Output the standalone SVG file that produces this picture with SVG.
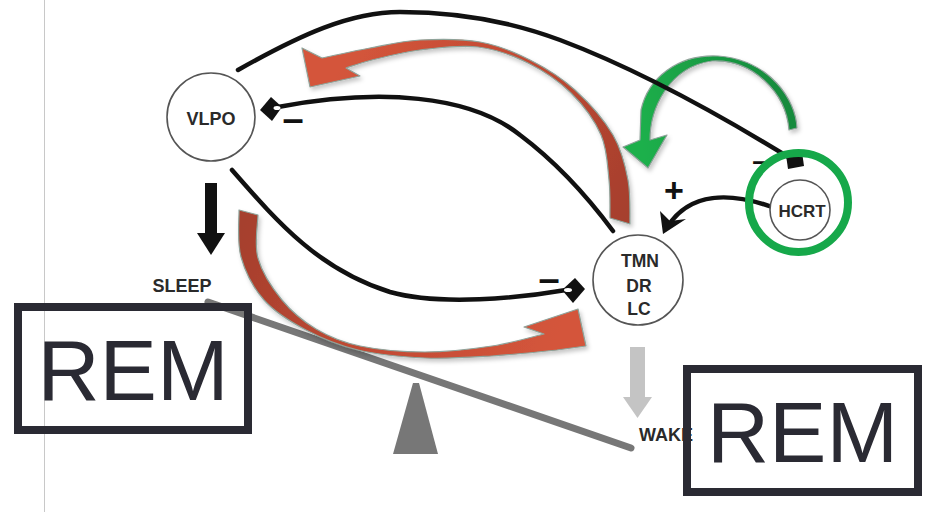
<svg xmlns="http://www.w3.org/2000/svg" width="926" height="512" viewBox="0 0 926 512">
<style>
.ln{fill:none;stroke:#111;stroke-width:4.5;stroke-linecap:round}
.node{fill:#fff;stroke:#555;stroke-width:1.6}
.lbl{font-family:"Liberation Sans",Arial,sans-serif;font-weight:bold;fill:#2a2a2a;text-anchor:middle}
.sign{font-family:"Liberation Sans",Arial,sans-serif;font-weight:bold;fill:#111;text-anchor:middle}
.rem{font-family:"Liberation Sans",Arial,sans-serif;font-size:86px;fill:#2a2a33;text-anchor:middle}
.box{fill:none;stroke:#2a2a33;stroke-width:8}
.band{stroke:#8fa39a;stroke-width:1.2;stroke-linejoin:round;filter:url(#sh)}
</style>
<defs>
<filter id="sh" x="-20%" y="-20%" width="140%" height="140%">
<feDropShadow dx="2" dy="3" stdDeviation="2" flood-color="#000" flood-opacity="0.22"/>
</filter>
<linearGradient id="gRedUp" gradientUnits="userSpaceOnUse" x1="625" y1="220" x2="340" y2="65">
<stop offset="0" stop-color="#a63f2d"/><stop offset="0.5" stop-color="#c04a33"/><stop offset="1" stop-color="#d4553b"/>
</linearGradient>
<linearGradient id="gRedLo" gradientUnits="userSpaceOnUse" x1="248" y1="212" x2="560" y2="330">
<stop offset="0" stop-color="#a63f2d"/><stop offset="0.5" stop-color="#c24b34"/><stop offset="1" stop-color="#d4553b"/>
</linearGradient>
<linearGradient id="gGreen" gradientUnits="userSpaceOnUse" x1="793" y1="128" x2="645" y2="160">
<stop offset="0" stop-color="#178a3c"/><stop offset="1" stop-color="#1cb04c"/>
</linearGradient>
</defs>

<rect width="926" height="512" fill="#fff"/>
<line x1="44.5" y1="0" x2="44.5" y2="512" stroke="#c8c8c8" stroke-width="1"/>

<g id="seesaw">
<line x1="208" y1="302" x2="631" y2="448" stroke="#777" stroke-width="7" stroke-linecap="round"/>
<polygon points="413,383 419,383 438,454 393,454" fill="#777"/>
</g>

<g id="connectors">
<path class="band" fill="url(#gGreen)" d="M 797 128 C 796 100 770 60 718 56 C 678 54 648 78 641 110 L 640 140 L 623 147 L 648 168 L 667 135 L 650 140 C 650 110 668 67 712 61 C 752 59 786 92 789 130 Z"/>
<path class="ln" d="M 238 70 C 300 35 350 12 400 12 C 470 12 520 25 560 40 C 640 70 720 115 790 158"/>
<polygon points="786,155 802,152 804,166 788,169" fill="#111"/>
<path class="ln" d="M 278 107 C 380 88 470 95 520 135 C 560 165 590 200 613 231"/>
<polygon points="260,110 271,97 282,107 272,121" fill="#111"/>
<ellipse cx="277" cy="108" rx="3.5" ry="2" fill="#fff"/>
<path class="ln" d="M 232 170 C 280 225 320 270 390 292 C 440 306 520 298 566 290"/>
<polygon points="562,290 575,278 585,289 573,303" fill="#111"/>
<ellipse cx="568" cy="290" rx="4" ry="2" fill="#fff"/>
<path class="ln" d="M 772 207 C 730 192 690 192 668 226"/>
<polygon points="663,234 660,211 670,221 686,219" fill="#111"/>
<path class="band" fill="url(#gRedUp)" d="M 610 218 L 630 224 C 629.7 216.7 630.8 194.8 628 180 C 625.2 165.2 621.8 150 613 135 C 604.2 120 588.8 102.5 575 90 C 561.2 77.5 545.8 68 530 60 C 514.2 52 498.3 45.3 480 42 C 461.7 38.7 438.3 39 420 40 C 401.7 41 386.3 45 370 48 C 353.7 51 330 56.3 322 58 L 302 48 L 310 87 L 360 76 L 346 68 C 350.3 66.7 359.7 63 372 60 C 384.3 57 402.3 52.2 420 50 C 437.7 47.8 460 44.8 478 47 C 496 49.2 512.5 55.3 528 63 C 543.5 70.7 558.8 81 571 93 C 583.2 105 594.7 120.5 601 135 C 607.3 149.5 607.5 166.2 609 180 C 610.5 193.8 609.8 211.7 610 218 Z"/>
<path class="band" fill="url(#gRedLo)" d="M 239 210 C 239.3 217.8 236.8 242 241 257 C 245.2 272 253.2 287.8 264 300 C 274.8 312.2 290.3 321.7 306 330 C 321.7 338.3 338.2 345.3 358 350 C 377.8 354.7 402.7 357 425 358 C 447.3 359 470 357.3 492 356 C 514 354.7 546.2 351 557 350 L 586 346 L 578 309 L 524 327 L 544 334 C 535.3 336 511.8 343 492 346 C 472.2 349 447 352 425 352 C 403 352 378.2 349.8 360 346 C 341.8 342.2 329 336.7 316 329 C 303 321.3 291.7 311.8 282 300 C 272.3 288.2 262 272.2 258 258 C 254 243.8 258 222.2 258 215 Z"/>
<text class="sign" x="293" y="132" font-size="38">–</text>
<text class="sign" x="549" y="292" font-size="38">–</text>
<text class="sign" x="760" y="170" font-size="28">–</text>
<text class="sign" x="674" y="202" font-size="34">+</text>
<rect x="205" y="183" width="12" height="52" fill="#111"/>
<polygon points="197,233 225,233 211,255" fill="#111"/>
<rect x="630" y="347" width="15" height="51" fill="#c4c4c4"/>
<polygon points="623,397 652,397 637.5,418" fill="#c4c4c4"/>
</g>

<g id="node-vlpo">
<circle class="node" cx="211" cy="117" r="44"/>
<text class="lbl" x="211" y="125" font-size="18">VLPO</text>
</g>

<g id="node-tmn">
<circle class="node" cx="638" cy="280" r="45"/>
<text class="lbl" x="640" y="267" font-size="17.5">TMN</text>
<text class="lbl" x="639" y="292" font-size="17.5">DR</text>
<text class="lbl" x="639" y="315" font-size="17.5">LC</text>
</g>

<g id="node-hcrt">
<circle class="node" cx="800" cy="210" r="30"/>
<circle cx="798.5" cy="202.5" r="49.5" fill="none" stroke="#16a84a" stroke-width="8"/>
<text class="lbl" x="802" y="217" font-size="17">HCRT</text>
</g>

<g id="label-sleep">
<text class="lbl" x="182" y="292" font-size="18">SLEEP</text>
</g>
<g id="label-wake">
<text class="lbl" x="639" y="441" font-size="18" style="text-anchor:start">WAKE</text>
</g>

<g id="rem-left">
<rect class="box" x="18" y="307" width="230" height="123"/>
<text class="rem" x="133" y="400">REM</text>
</g>
<g id="rem-right">
<rect class="box" x="687" y="369" width="231" height="123"/>
<text class="rem" x="802.5" y="462">REM</text>
</g>
</svg>
